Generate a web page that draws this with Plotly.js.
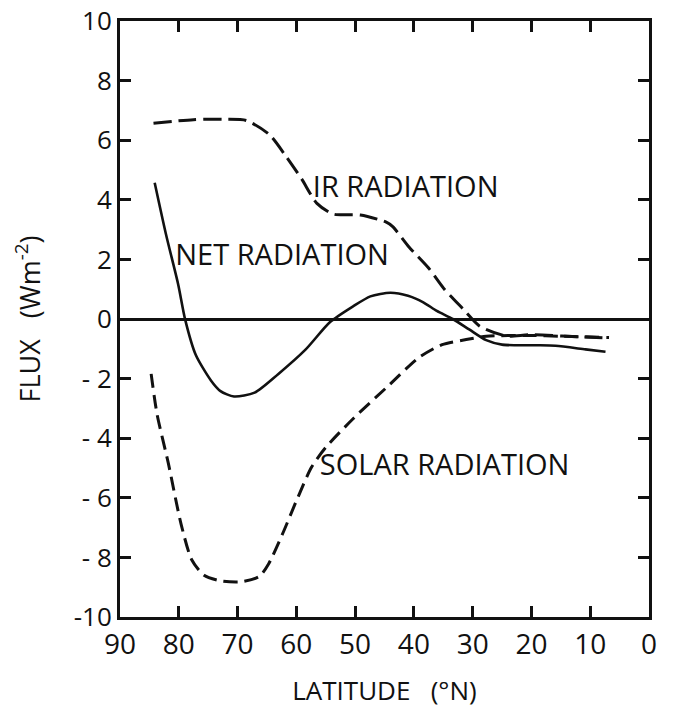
<!DOCTYPE html>
<html>
<head>
<meta charset="utf-8">
<script src="https://cdn.plot.ly/plotly-3.0.1.min.js"></script>
<style>
  html, body { margin: 0; padding: 0; background: #ffffff; }
  #chart { width: 673px; height: 709px; }
</style>
</head>
<body>
<div id="chart"></div>
<script>
// ---- data ----
const netLat = [84.1, 82.2, 80.1, 78.9, 77.1, 74.5, 72.9, 70.6, 67.1, 63.1, 58.4, 54.3, 50.3, 47.4, 44.0, 41.0, 38.4, 36.1, 33.4, 30.6, 27.7, 25.0, 19.3, 15.9, 10.8, 7.4];
const netVal = [4.57, 2.86, 1.16, -0.03, -1.21, -2.07, -2.42, -2.60, -2.47, -1.85, -1.02, -0.11, 0.43, 0.76, 0.88, 0.78, 0.56, 0.27, 0.0, -0.35, -0.71, -0.86, -0.88, -0.90, -1.02, -1.10];

const irLat = [84.3, 77.5, 72.5, 68.5, 64.6, 61.9, 59.1, 56.5, 53.7, 49.1, 44.7, 43.6, 40.8, 37.5, 34.9, 31.6, 28.8, 24.3, 20.4, 14.8, 6.8];
const irVal = [6.57, 6.69, 6.70, 6.66, 6.19, 5.50, 4.70, 3.88, 3.52, 3.49, 3.25, 3.10, 2.41, 1.71, 1.02, 0.33, -0.24, -0.57, -0.53, -0.57, -0.64];

const solarLat = [84.7, 83.7, 81.8, 79.6, 77.8, 75.7, 72.8, 69.4, 66.3, 64.7, 62.3, 59.9, 57.4, 55.0, 50.3, 44.5, 39.2, 35.2, 31.1, 27.7, 20.4, 14.8, 6.8];
const solarVal = [-1.84, -3.19, -4.82, -6.89, -8.08, -8.60, -8.79, -8.82, -8.64, -8.21, -7.19, -6.06, -4.97, -4.31, -3.34, -2.27, -1.30, -0.86, -0.69, -0.58, -0.55, -0.58, -0.62];

const xTickVals = [90, 80, 70, 60, 50, 40, 30, 20, 10, 0];
const xTickText = ["90", "80", "70", "60", "50", "40", "30", "20", "10", "0"];
const yTickVals = [10, 8, 6, 4, 2, 0, -2, -4, -6, -8, -10];
const yTickText = ["10", "8", "6", "4", "2", "0", "- 2", "- 4", "- 6", "- 8", "-10"];

const seriesLabels = ["IR RADIATION", "NET RADIATION", "SOLAR RADIATION"];
const xTitleText = "LATITUDE\u00a0\u00a0\u00a0(°N)";
const yTitleText = "FLUX\u00a0\u00a0\u00a0(Wm<sup>-2</sup>)";

// ---- label placement (layout, not data) ----
const labelLat = [57.2, 80.6, 56.0];
const labelVal = [4.33, 2.05, -5.0];

// ---- styling ----
const ink = "#111111";

const traces = [
  { x: irLat, y: irVal, type: "scatter", mode: "lines", name: seriesLabels[0],
    line: { color: ink, width: 3, dash: "18px,7px", shape: "spline", smoothing: 0.7 } },
  { x: netLat, y: netVal, type: "scatter", mode: "lines", name: seriesLabels[1],
    line: { color: ink, width: 2.6, shape: "spline", smoothing: 0.7 } },
  { x: solarLat, y: solarVal, type: "scatter", mode: "lines", name: seriesLabels[2],
    line: { color: ink, width: 3, dash: "14px,7px", shape: "spline", smoothing: 0.7 } },
  { x: labelLat, y: labelVal, type: "scatter", mode: "text", text: seriesLabels,
    textposition: "middle right", cliponaxis: false, hoverinfo: "skip",
    textfont: { size: 29, color: ink } }
];

const layout = {
  width: 673, height: 709,
  margin: { l: 120, r: 24, t: 21, b: 92 },
  paper_bgcolor: "#ffffff", plot_bgcolor: "#ffffff",
  showlegend: false,
  xaxis: {
    range: [90, 0], tickmode: "array", tickvals: xTickVals, ticktext: xTickText,
    ticks: "inside", ticklen: 11, tickwidth: 3, tickcolor: ink,
    showline: true, linewidth: 3, linecolor: ink, mirror: "ticks",
    showgrid: false, zeroline: false,
    tickfont: { size: 28, color: ink },
    title: { text: xTitleText, standoff: 22, font: { size: 26, color: ink } }
  },
  yaxis: {
    range: [-10, 10], tickmode: "array", tickvals: yTickVals, ticktext: yTickText,
    ticks: "inside", ticklen: 11, tickwidth: 3, tickcolor: ink,
    showline: true, linewidth: 3, linecolor: ink, mirror: "ticks",
    showgrid: false, zeroline: true, zerolinecolor: ink, zerolinewidth: 2.6,
    tickfont: { size: 26, color: ink },
    title: { text: yTitleText, standoff: 26, font: { size: 27, color: ink } }
  }
};

Plotly.newPlot("chart", traces, layout, { displayModeBar: false });
</script>
</body>
</html>
